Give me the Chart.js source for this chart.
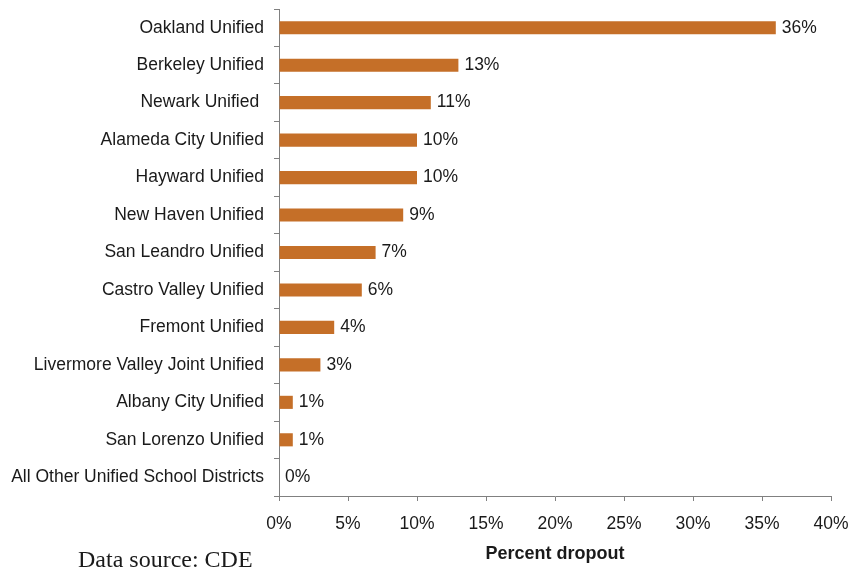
<!DOCTYPE html>
<html>
<head>
<meta charset="utf-8">
<script src="https://cdn.jsdelivr.net/npm/chart.js@4.4.1/dist/chart.umd.min.js"></script>
<style>
  html, body { margin: 0; padding: 0; background: #fff; }
  #wrap { width: 859px; height: 572px; position: relative; }
</style>
</head>
<body>
<div id="wrap"><canvas id="c" width="859" height="572"></canvas></div>
<script>
const categories = [
  "Oakland Unified",
  "Berkeley Unified",
  "Newark Unified ",
  "Alameda City Unified",
  "Hayward Unified",
  "New Haven Unified",
  "San Leandro Unified",
  "Castro Valley Unified",
  "Fremont Unified",
  "Livermore Valley Joint Unified",
  "Albany City Unified",
  "San Lorenzo Unified",
  "All Other Unified School Districts"
];
const dropoutPct = [36, 13, 11, 10, 10, 9, 7, 6, 4, 3, 1, 1, 0];
const xTicks = [0, 5, 10, 15, 20, 25, 30, 35, 40];
const xTitle = "Percent dropout";
const sourceNote = "Data source: CDE";

const barColor = "#C56F28";
const axisColor = "#808080";
const textColor = "#1a1a1a";
const fontFamily = "'Liberation Sans', Arial, sans-serif";

const valueLabels = {
  id: "valueLabels",
  afterDatasetsDraw(chart) {
    const ctx = chart.ctx;
    const meta = chart.getDatasetMeta(0);
    ctx.save();
    ctx.font = "17.5px " + fontFamily;
    ctx.fillStyle = textColor;
    ctx.textAlign = "left";
    ctx.textBaseline = "middle";
    meta.data.forEach((bar, i) => {
      ctx.fillText(dropoutPct[i] + "%", bar.x + 6, bar.y);
    });
    ctx.restore();
  }
};

const sourceText = {
  id: "sourceText",
  afterDraw(chart) {
    const ctx = chart.ctx;
    ctx.save();
    ctx.font = "24px 'Liberation Serif', 'Times New Roman', serif";
    ctx.fillStyle = textColor;
    ctx.textAlign = "left";
    ctx.textBaseline = "middle";
    ctx.fillText(sourceNote, 78, 561);
    ctx.restore();
  }
};

new Chart(document.getElementById("c"), {
  type: "bar",
  data: {
    labels: categories,
    datasets: [{
      data: dropoutPct,
      backgroundColor: barColor,
      borderWidth: 0,
      categoryPercentage: 1.0,
      barPercentage: 0.35
    }]
  },
  options: {
    indexAxis: "y",
    responsive: false,
    animation: false,
    devicePixelRatio: 1,
    layout: { padding: { top: 9, right: 28, bottom: 0, left: 0 } },
    plugins: {
      legend: { display: false },
      tooltip: { enabled: false }
    },
    scales: {
      x: {
        min: 0,
        max: 40,
        afterBuildTicks(scale) { scale.ticks = xTicks.map(v => ({ value: v })); },
        afterFit(scale) { scale.height = 76; scale.paddingLeft = 0; scale.paddingRight = 0; },
        ticks: {
          callback: v => v + "%",
          font: { family: fontFamily, size: 17.5 },
          color: textColor,
          padding: 13,
          maxRotation: 0
        },
        grid: {
          drawOnChartArea: false,
          drawTicks: true,
          tickLength: 5,
          color: axisColor
        },
        border: { display: true, color: axisColor, width: 1 },
        title: {
          display: true,
          text: xTitle,
          font: { family: fontFamily, size: 18, weight: "bold" },
          color: textColor,
          padding: { top: 4, bottom: 7 }
        }
      },
      y: {
        afterFit(scale) { scale.width = 279; scale.paddingTop = 0; scale.paddingBottom = 0; },
        ticks: {
          font: { family: fontFamily, size: 17.5 },
          color: textColor,
          padding: 10,
          autoSkip: false
        },
        grid: {
          offset: true,
          drawOnChartArea: false,
          drawTicks: true,
          tickLength: 5,
          color: axisColor
        },
        border: { display: true, color: axisColor, width: 1 }
      }
    }
  },
  plugins: [valueLabels, sourceText]
});
</script>
</body>
</html>
